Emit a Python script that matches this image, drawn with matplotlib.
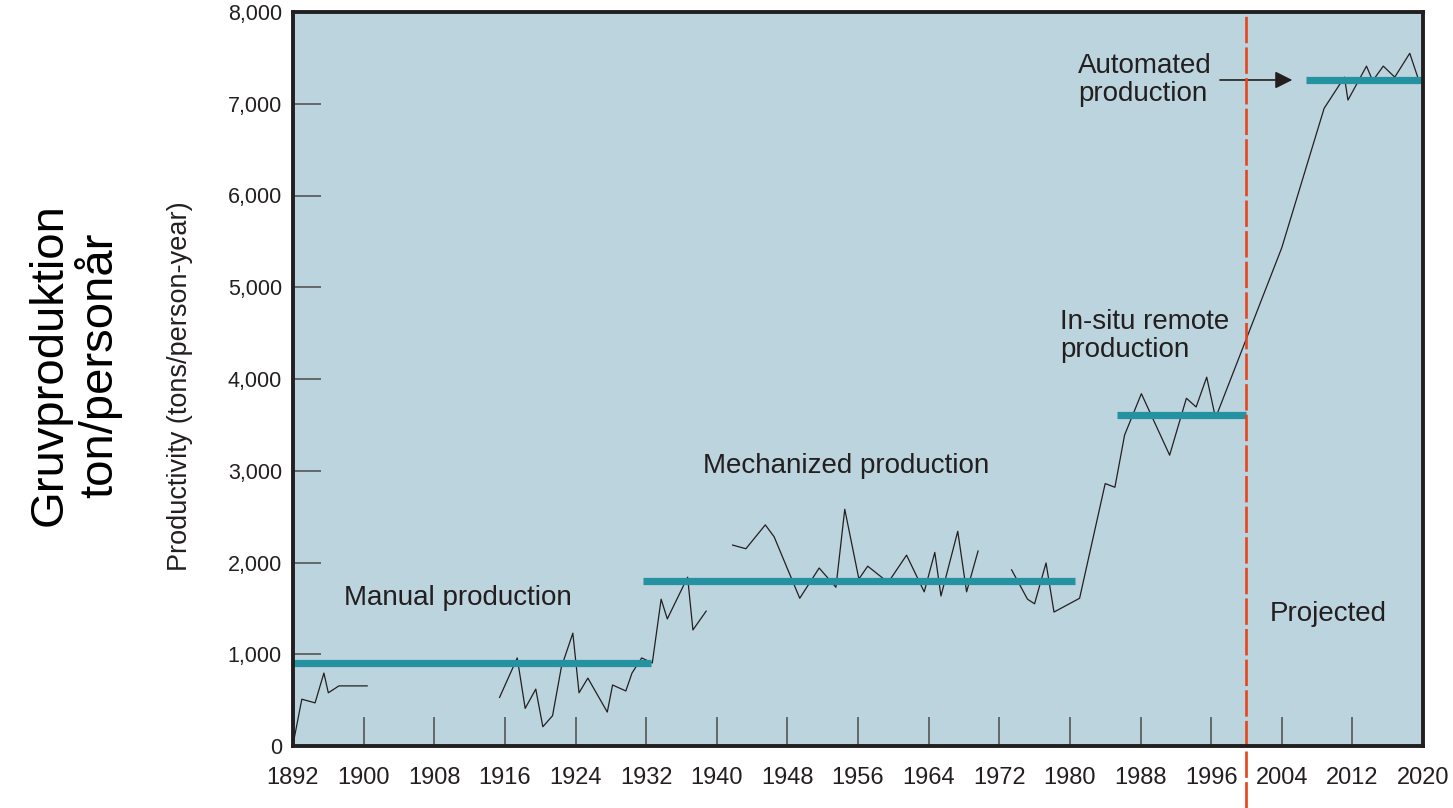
import numpy as np
import matplotlib
matplotlib.use("Agg")
import matplotlib.pyplot as plt

plt.rcParams['font.family'] = ['Liberation Sans', 'DejaVu Sans']

# productivity, tons/person-year
yrs_1890s = [1892.1, 1893, 1894.5, 1895.5, 1896, 1897.2, 1900.4]
val_1890s = [65, 510, 470, 795, 580, 655, 655]

yrs_1915 = [1915.4, 1917.4, 1918.3, 1919.5, 1920.3, 1921.4, 1922.4, 1923.7,
            1924.4, 1925.4, 1927.6, 1928.2, 1929.7, 1930.4, 1931.5, 1932.7,
            1933.7, 1934.4, 1936.7, 1937.3, 1938.8]
val_1915 = [530, 960, 410, 620, 210, 330, 860, 1230, 580, 740, 370, 665,
            600, 795, 960, 905, 1600, 1385, 1840, 1265, 1470]

yrs_1941 = [1941.8, 1943.3, 1945.5, 1946.5, 1949.4, 1951.6, 1953.5, 1954.5,
            1956.1, 1957.1, 1958.8, 1959.4, 1961.5, 1963.5, 1964.7, 1965.4,
            1967.3, 1968.3, 1969.6]
val_1941 = [2190, 2150, 2410, 2280, 1610, 1940, 1730, 2580, 1820, 1960,
            1830, 1780, 2080, 1680, 2110, 1635, 2340, 1680, 2125]

yrs_1973 = [1973.4, 1975.2, 1976, 1977.3, 1978.2, 1981.1, 1984, 1985.1,
            1986.2, 1988.1, 1991.3, 1993.2, 1994.3, 1995.5, 1996.5, 2004,
            2008.8, 2011.1, 2011.5, 2013.6, 2014.3, 2015.5, 2016.8, 2018.5,
            2019.4]
val_1973 = [1920, 1600, 1550, 1995, 1460, 1610, 2860, 2820, 3390, 3840,
            3170, 3790, 3695, 4020, 3575, 5430, 6950, 7290, 7040, 7410,
            7250, 7410, 7290, 7550, 7290]

# phase levels: (start, end, level)
phase_start = [1892, 1931.6, 1985.3, 2006.8]
phase_end = [1932.5, 1980.6, 2000, 2020]
phase_level = [910, 1800, 3610, 7260]

projection_year = 2000
xticks = list(range(1892, 2021, 8))
yticks = list(range(0, 8001, 1000))

bg = '#BCD4DE'
teal = '#2492A0'
dark = '#231F20'

fig = plt.figure(figsize=(14.53, 8.08), dpi=100)
ax = fig.add_axes([293/1453, 1 - 746/808, (1423-293)/1453, (746-12)/808])
ax.set_facecolor(bg)

for xs, ys in [(yrs_1890s, val_1890s), (yrs_1915, val_1915),
               (yrs_1941, val_1941), (yrs_1973, val_1973)]:
    ax.plot(xs, ys, color=dark, lw=0.9, zorder=3)

ax.hlines(phase_level, phase_start, phase_end, colors=teal, lw=5.2, zorder=4)

ax.axvline(projection_year, ymin=-0.085, ymax=1, clip_on=False,
           color='#E8441A', lw=1.9, dashes=(10, 1.6), zorder=5)

ax.set_xlim(1892, 2020)
ax.set_ylim(0, 8000)
ax.set_xticks(xticks)
ax.set_yticks(yticks)
ax.set_yticklabels([f"{v:,}" for v in yticks])
ax.tick_params(axis='y', direction='in', length=20, width=1.2, color='#555555',
               labelsize=15.5, pad=8, labelcolor=dark)
ax.tick_params(axis='x', direction='in', length=21, width=1.2, color='#555555',
               labelsize=17, pad=15, labelcolor=dark)
for s in ax.spines.values():
    s.set_color(dark)
    s.set_linewidth(2.8)
    s.set_zorder(6)

tk = dict(fontsize=20, color=dark, va='center', ha='left')
ax.text(1897.8, 1613, "Manual production", **tk)
ax.text(1938.4, 3052, "Mechanized production", **tk)
ax.text(1978.9, 4469, "In-situ remote\nproduction", linespacing=1.1, **tk)
ax.text(1980.9, 7259, "Automated\nproduction", linespacing=1.1, **tk)
ax.text(2002.6, 1439, "Projected", **tk)

ax.annotate('', xy=(2005.2, 7259), xytext=(1997, 7259),
            arrowprops=dict(arrowstyle='-|>', mutation_scale=26, lw=1.2,
                            color=dark, shrinkA=0, shrinkB=0))

fig.text(180/1453, 1 - 386/808, "Productivity (tons/person-year)",
         rotation=90, ha='center', va='center', fontsize=19.5, color=dark)
fig.text(75/1453, 1 - 365/808, "Gruvproduktion\nton/personår",
         rotation=90, ha='center', va='center', fontsize=34, color='black',
         linespacing=1.05, multialignment='center')

fig.savefig("out.png", dpi=100)
